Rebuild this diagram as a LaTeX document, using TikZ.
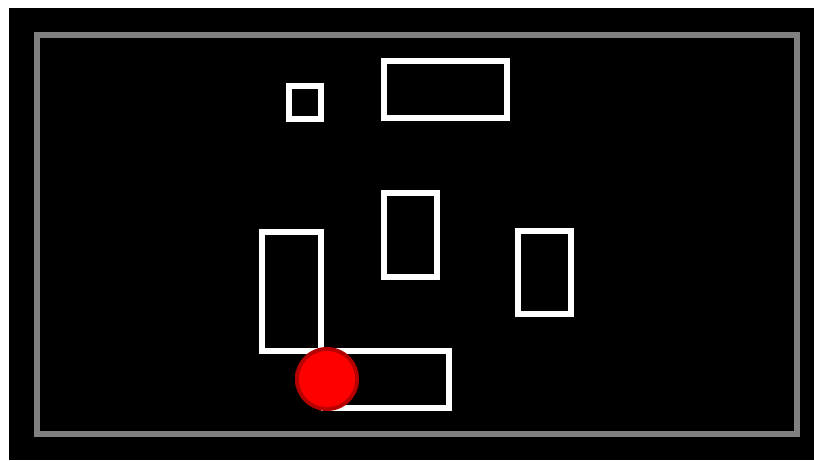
\documentclass[tikz,border=0pt]{standalone}
\begin{document}
\begin{tikzpicture}[x=0.025cm, y=-0.025cm, wall/.style={draw=white, line width=4.8pt}]
\useasboundingbox (0,0) rectangle (814,460);
\fill[white] (0,0) rectangle (814,460);
\fill[black] (9,8) rectangle (814,460);
\draw[gray, line width=4.3pt](37,35) rectangle (797,434);
\draw[wall](289,86) rectangle (321,119);
\draw[wall](384,61) rectangle (507,118);
\draw[wall](384,193) rectangle (437,277);
\draw[wall](518,231) rectangle (571,314);
\draw[wall](262,232) rectangle (321,351);
\draw[wall](324,351) rectangle (449,408);
\shade[inner color=red, outer color=red!70!black] (327,379) circle (32);
\fill[red] (327,379) circle (28);
\end{tikzpicture}
\end{document}
